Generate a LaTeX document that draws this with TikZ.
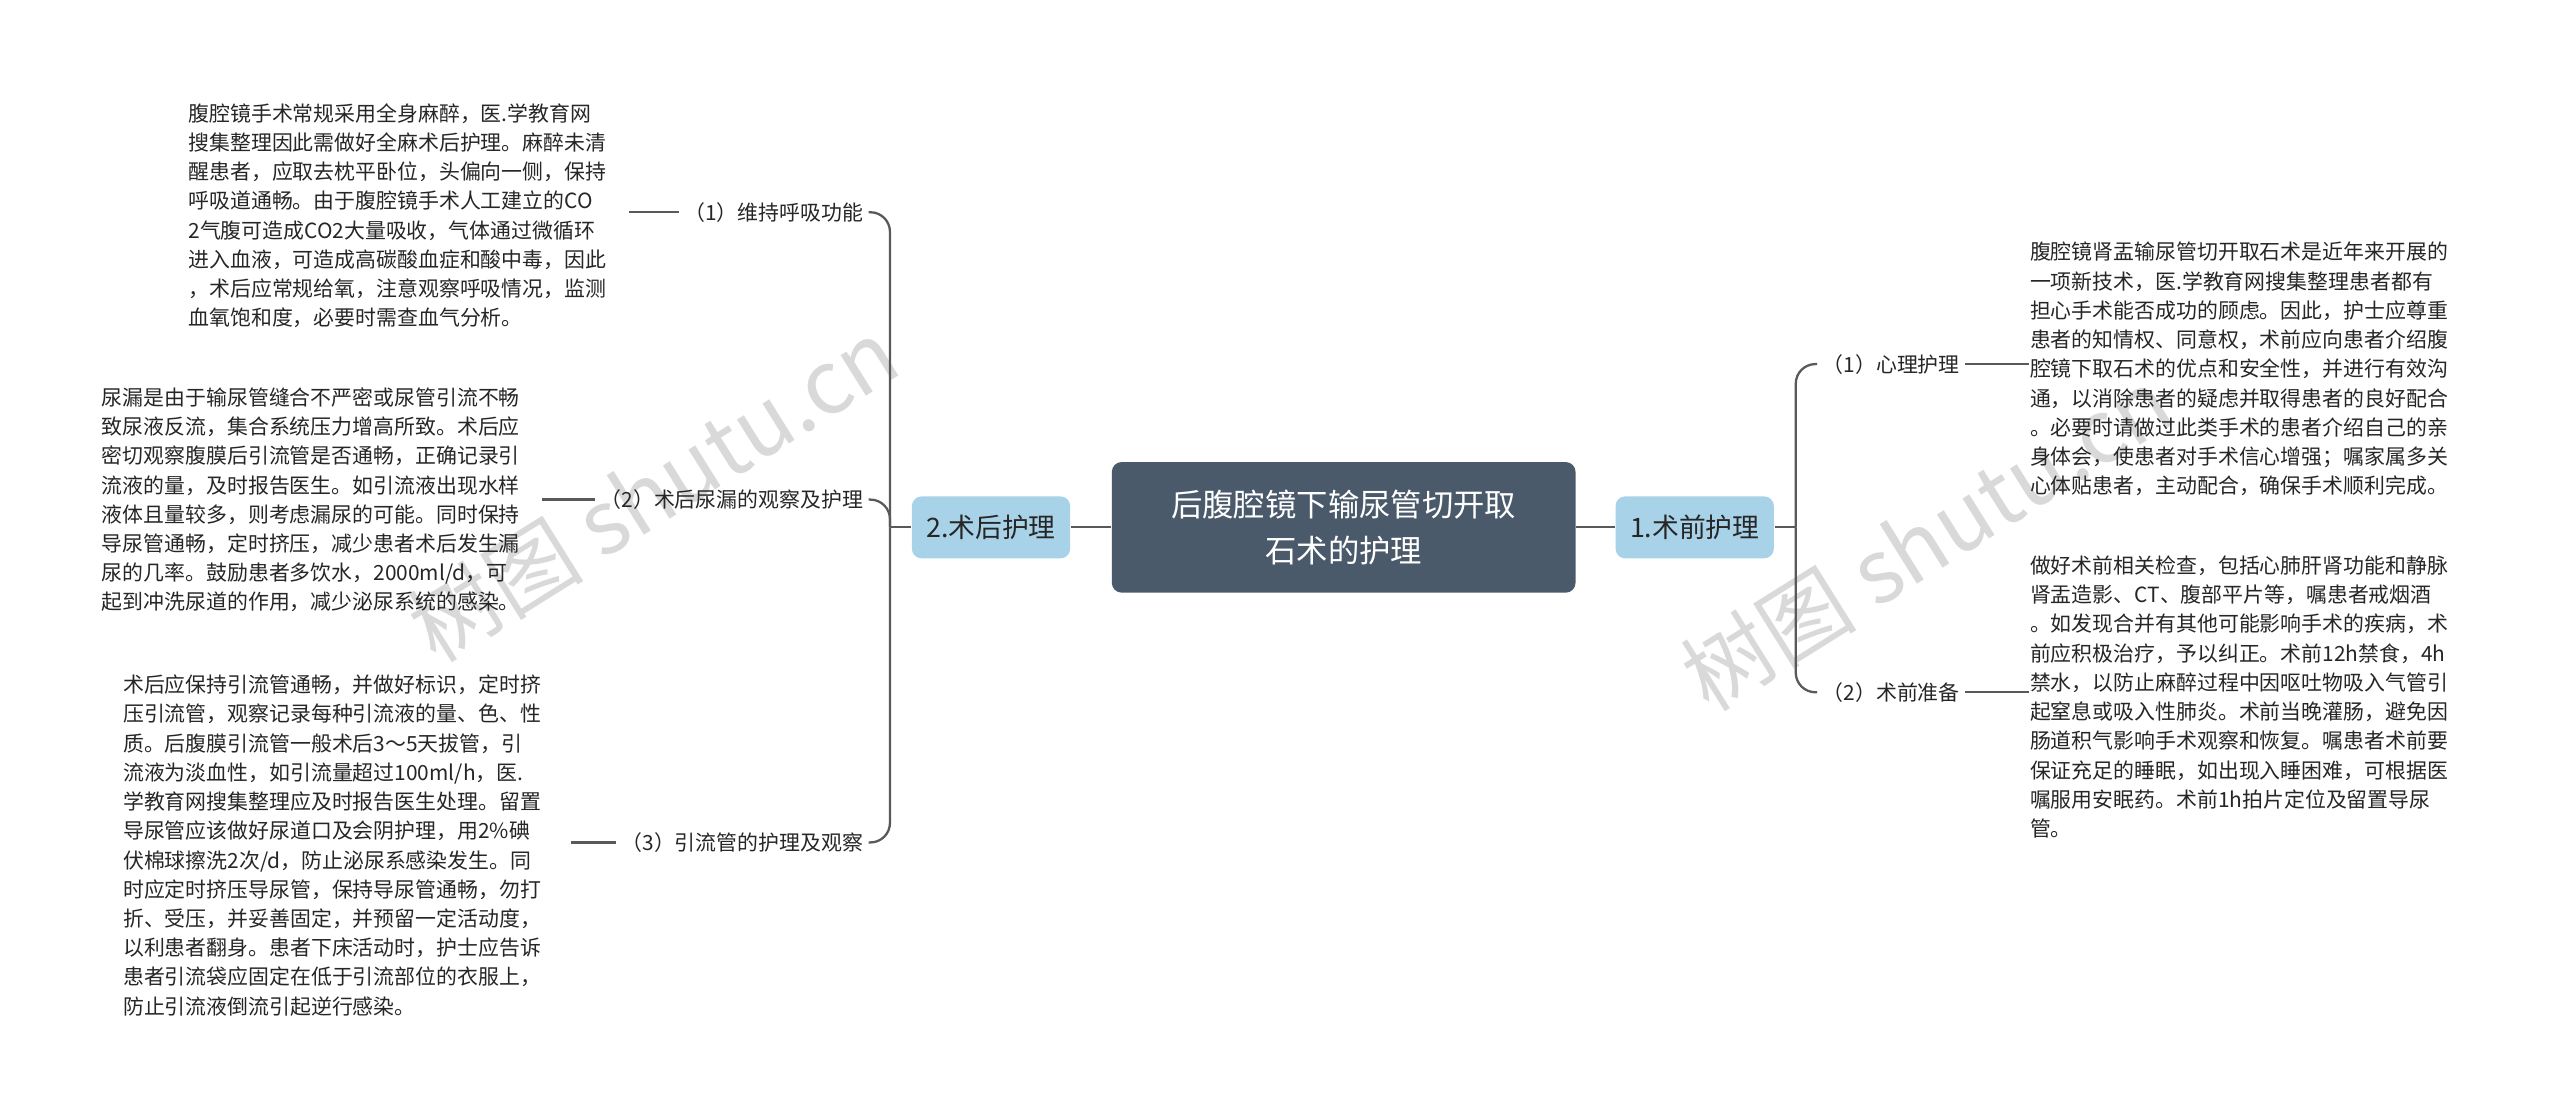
\documentclass[tikz,border=0pt]{standalone}
\usepackage{fontspec}
\setmainfont{Noto Sans CJK SC}
\definecolor{midblue}{RGB}{168,210,232}
\definecolor{slate}{RGB}{74,90,106}
\begin{document}
\begin{tikzpicture}[x=0.5pt,y=-0.5pt,
  txt/.style={anchor=north west,inner sep=0,align=left,font=\fontsize{6.4pt}{8.95pt}\selectfont,text=black!85},
  lab/.style={inner sep=1.5pt,font=\fontsize{6.4pt}{8pt}\selectfont,text=black!85},
  mid/.style={fill=midblue,rounded corners=3pt,minimum width=48.5pt,minimum height=19pt,font=\fontsize{8.2pt}{10pt}\selectfont,text=black!85},
  con/.style={draw=black!65,line width=0.7pt},
  wm/.style={text=black!15,font=\fontsize{27pt}{30pt}\selectfont,rotate=32}]
\useasboundingbox (0,0) rectangle (1568,680);
\node[wm] (w1) at (400,300) {树图 shutu.cn};
\node[wm] (w2) at (1180,330) {树图 shutu.cn};
\node[fill=slate,rounded corners=3pt,text=white,minimum width=142pt,minimum height=40pt,align=center,font=\fontsize{9.6pt}{14pt}\selectfont] (c) at (823,323) {后腹腔镜下输尿管切开取\\石术的护理};
\node[mid] (r) at (1038,323) {1.术前护理};
\node[mid] (l) at (607,323) {2.术后护理};
\draw[con] (c.east) -- (r.west);
\draw[con] (c.west) -- (l.east);
% right
\node[lab,anchor=west] (r1) at (1113,223) {（1）心理护理};
\node[lab,anchor=west] (r2) at (1113,424) {（2）术前准备};
\node[txt] (rb1) at (1243,148) {腹腔镜肾盂输尿管切开取石术是近年来开展的\\一项新技术，医.学教育网搜集整理患者都有\\担心手术能否成功的顾虑。因此，护士应尊重\\患者的知情权、同意权，术前应向患者介绍腹\\腔镜下取石术的优点和安全性，并进行有效沟\\通，以消除患者的疑虑并取得患者的良好配合\\。必要时请做过此类手术的患者介绍自己的亲\\身体会，使患者对手术信心增强；嘱家属多关\\心体贴患者，主动配合，确保手术顺利完成。};
\node[txt] (rb2) at (1243,340) {做好术前相关检查，包括心肺肝肾功能和静脉\\肾盂造影、CT、腹部平片等，嘱患者戒烟酒\\。如发现合并有其他可能影响手术的疾病，术\\前应积极治疗，予以纠正。术前12h禁食，4h\\禁水，以防止麻醉过程中因呕吐物吸入气管引\\起窒息或吸入性肺炎。术前当晚灌肠，避免因\\肠道积气影响手术观察和恢复。嘱患者术前要\\保证充足的睡眠，如出现入睡困难，可根据医\\嘱服用安眠药。术前1h拍片定位及留置导尿\\管。};
\draw[con] (r.east) -- ++(13,0) coordinate (rj);
\draw[con,rounded corners=6pt] (rj) |- (r1.west);
\draw[con,rounded corners=6pt] (rj) |- (r2.west);
\draw[con] (r1.east) -- (r1.east -| rb1.west);
\draw[con] (r2.east) -- (r2.east -| rb2.west);
% left
\node[lab,anchor=east] (l1) at (532,130) {（1）维持呼吸功能};
\node[lab,anchor=east] (l2) at (532,306) {（2）术后尿漏的观察及护理};
\node[lab,anchor=east] (l3) at (532,516) {（3）引流管的护理及观察};
\node[txt] (lb1) at (115,63) {腹腔镜手术常规采用全身麻醉，医.学教育网\\搜集整理因此需做好全麻术后护理。麻醉未清\\醒患者，应取去枕平卧位，头偏向一侧，保持\\呼吸道通畅。由于腹腔镜手术人工建立的CO\\2气腹可造成CO2大量吸收，气体通过微循环\\进入血液，可造成高碳酸血症和酸中毒，因此\\，术后应常规给氧，注意观察呼吸情况，监测\\血氧饱和度，必要时需查血气分析。};
\node[txt] (lb2) at (62,237) {尿漏是由于输尿管缝合不严密或尿管引流不畅\\致尿液反流，集合系统压力增高所致。术后应\\密切观察腹膜后引流管是否通畅，正确记录引\\流液的量，及时报告医生。如引流液出现水样\\液体且量较多，则考虑漏尿的可能。同时保持\\导尿管通畅，定时挤压，减少患者术后发生漏\\尿的几率。鼓励患者多饮水，2000ml/d，可\\起到冲洗尿道的作用，减少泌尿系统的感染。};
\node[txt] (lb3) at (75,413) {术后应保持引流管通畅，并做好标识，定时挤\\压引流管，观察记录每种引流液的量、色、性\\质。后腹膜引流管一般术后3～5天拔管，引\\流液为淡血性，如引流量超过100ml/h，医.\\学教育网搜集整理应及时报告医生处理。留置\\导尿管应该做好尿道口及会阴护理，用2\%碘\\伏棉球擦洗2次/d，防止泌尿系感染发生。同\\时应定时挤压导尿管，保持导尿管通畅，勿打\\折、受压，并妥善固定，并预留一定活动度，\\以利患者翻身。患者下床活动时，护士应告诉\\患者引流袋应固定在低于引流部位的衣服上，\\防止引流液倒流引起逆行感染。};
\draw[con] (l.west) -- ++(-13,0) coordinate (lj);
\draw[con,rounded corners=6pt] (lj) |- (l1.east);
\draw[con,rounded corners=6pt] (lj) |- (l2.east);
\draw[con,rounded corners=6pt] (lj) |- (l3.east);
\coordinate (e1) at (385,130);
\coordinate (e2) at (332,306);
\coordinate (e3) at (350,516);
\draw[con] (l1.west) -- (e1);
\draw[con] (l2.west) -- (e2);
\draw[con] (l3.west) -- (e3);
\end{tikzpicture}
\end{document}
